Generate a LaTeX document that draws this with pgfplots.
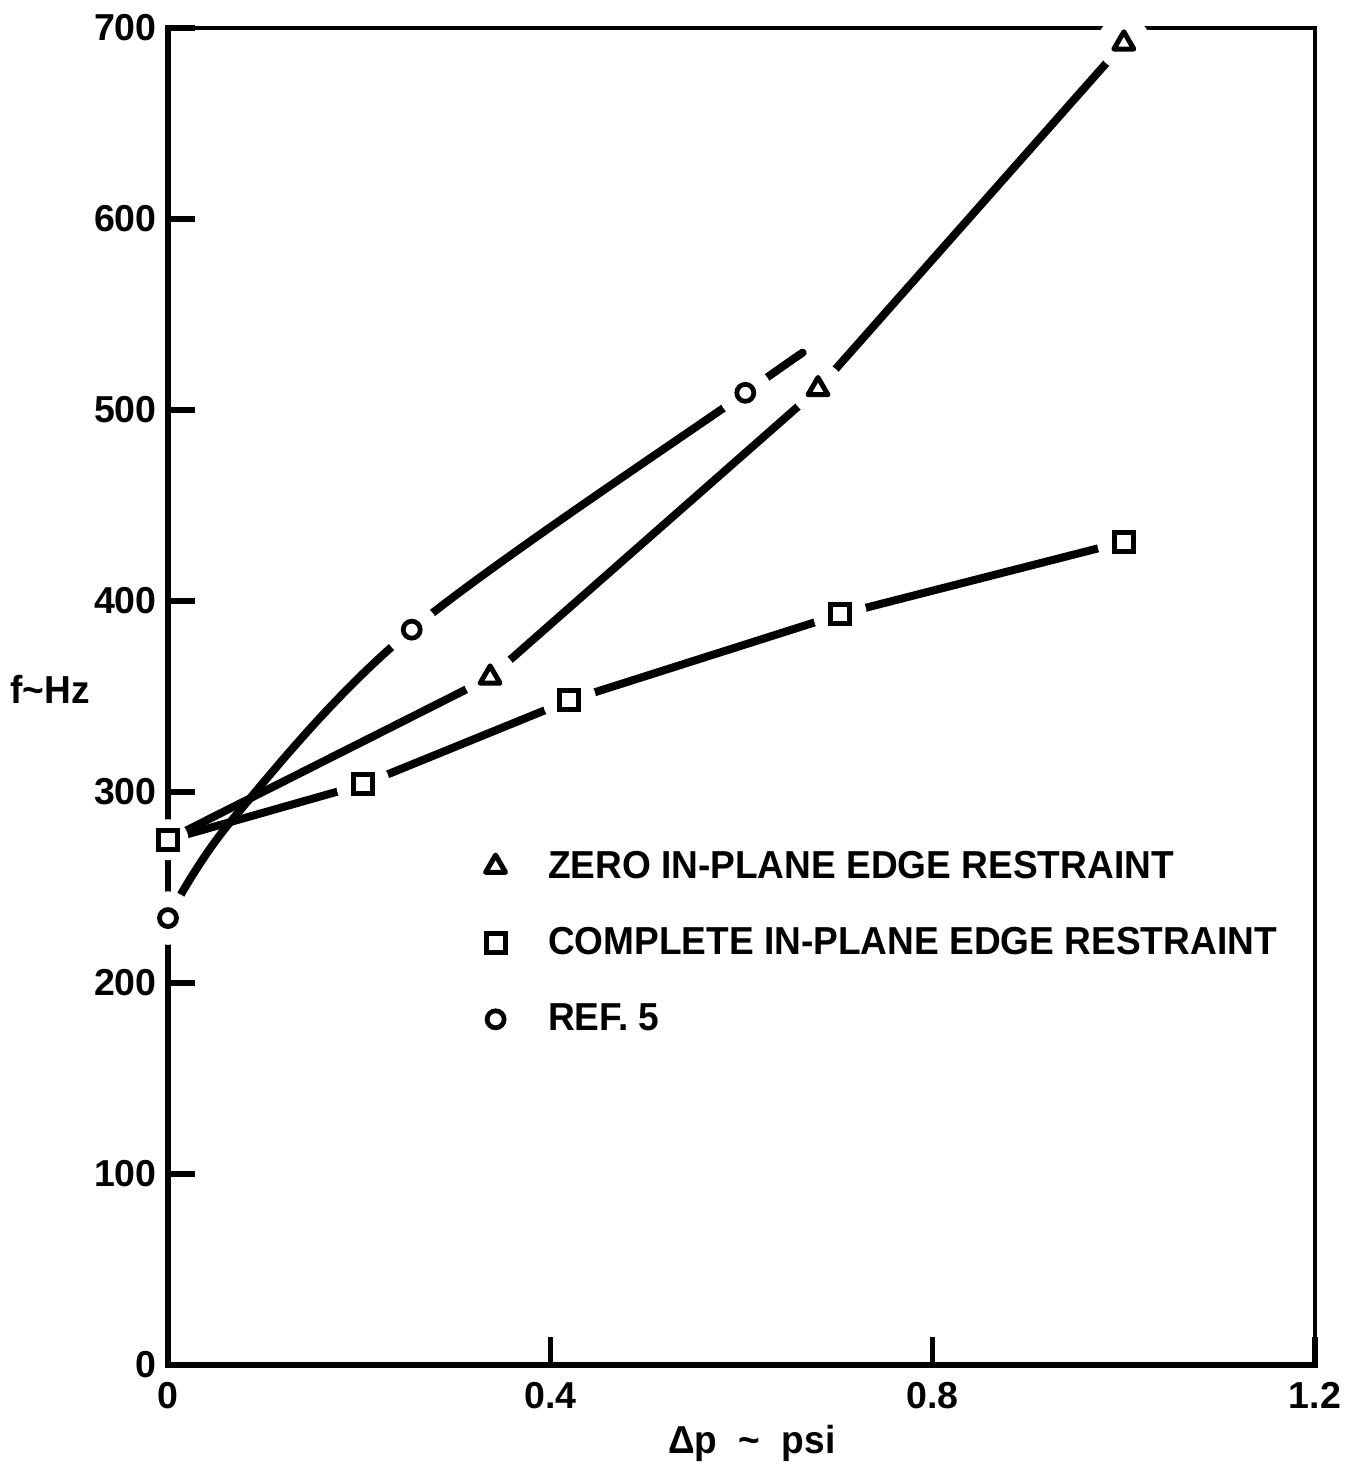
\documentclass[border=0pt]{standalone}
\usepackage{fontspec}
\setmainfont{Liberation Sans}
\newfontfamily\lettering[FakeStretch=0.95]{Liberation Sans}
\usepackage{pgfplots}
\pgfplotsset{compat=1.18}

\newcommand{\tickfont}{\bfseries\fontsize{15}{18}\selectfont}
\newcommand{\labfont}{\lettering\bfseries\fontsize{15.6}{18}\selectfont}

\begin{document}
\begin{tikzpicture}
\begin{axis}[
  scale only axis, width=458.8pt, height=534.8pt,
  xmin=0, xmax=1.2, ymin=0, ymax=700,
  axis lines=left,
  axis line style={-, line width=2.6pt, line cap=rect},
  xtick={0,0.4,0.8,1.2}, xticklabels={0,0.4,0.8,1.2},
  ytick={0,100,200,300,400,500,600,700},
  yticklabels={0,100,200,300,400,500,600,700},
  tick align=inside, major tick length=11pt,
  tick style={line width=2.2pt, black},
  ticklabel style={font=\tickfont},
  /pgf/number format/assume math mode=true,
  xticklabel style={yshift=-3.5pt},
  yticklabel style={xshift=-1pt},
  clip=false,
  legend cell align=left,
  legend style={at={(rel axis cs:0.2765,0.3885)}, anchor=north west,
    draw=none, fill=none, inner sep=0pt, row sep=14.2pt, column sep=15pt,
    font=\labfont, nodes={inner sep=2pt}},
]
% frame: top and right edges are drawn lighter than the axis lines
\draw[line width=1.6pt] (rel axis cs:0,1) -- (rel axis cs:1,1) -- (rel axis cs:1,0);

% curves
\addplot[black, line width=3.2pt, line cap=round, forget plot]
  coordinates {(0,275) (0.337,360) (0.68,511) (1.0,692)};
\addplot[black, line width=3.2pt, line cap=round, forget plot]
  coordinates {(0,275) (0.204,304) (0.42,348) (0.703,393) (1.0,431)};
\addplot[black, line width=3.2pt, line cap=round, smooth, tension=0.55, forget plot]
  coordinates {(0,234) (0.068,286) (0.255,385) (0.604,509) (0.664,530)};

% white halos open the lines around each symbol
\addplot[only marks, mark=*, mark size=10.5pt,
  mark options={draw=white, fill=white}, forget plot]
  coordinates {(0.337,360) (0.68,511) (1.0,692)
               (0.204,304) (0.42,348) (0.703,393) (1.0,431)
               (0,234) (0.255,385) (0.604,509)};
\addplot[only marks, mark=*, mark size=8pt,
  mark options={draw=white, fill=white}, forget plot]
  coordinates {(0,275)};

% symbols
\addplot[only marks, mark=triangle, mark size=4.6pt,
  mark options={line width=2pt, draw=black, fill=white, line join=round}]
  coordinates {(0.337,360) (0.68,511) (1.0,692)};
\addlegendentry{ZERO IN-PLANE EDGE RESTRAINT}
\addplot[only marks, mark=square, mark size=3.8pt,
  mark options={line width=2pt, draw=black, fill=white}]
  coordinates {(0,275) (0.204,304) (0.42,348) (0.703,393) (1.0,431)};
\addlegendentry{COMPLETE IN-PLANE EDGE RESTRAINT}
\addplot[only marks, mark=o, mark size=3.4pt,
  mark options={line width=1.9pt, draw=black, fill=white}]
  coordinates {(0,234) (0.255,385) (0.604,509)};
\addlegendentry{REF. 5}

% axis labels
\node[font=\labfont, inner sep=0pt] at ([xshift=-47.2pt]rel axis cs:0,0.505) {f\textasciitilde Hz};
\node[font=\labfont, inner sep=0pt] at ([yshift=-31.2pt]rel axis cs:0.509,0)
  {Δp\hspace{0.55em}\textasciitilde\hspace{0.55em}psi};

% page extent
\path ([shift={(-67.2pt,-40pt)}]rel axis cs:0,0) rectangle ([shift={(19.2pt,11.2pt)}]rel axis cs:1,1);
\end{axis}
\end{tikzpicture}
\end{document}
